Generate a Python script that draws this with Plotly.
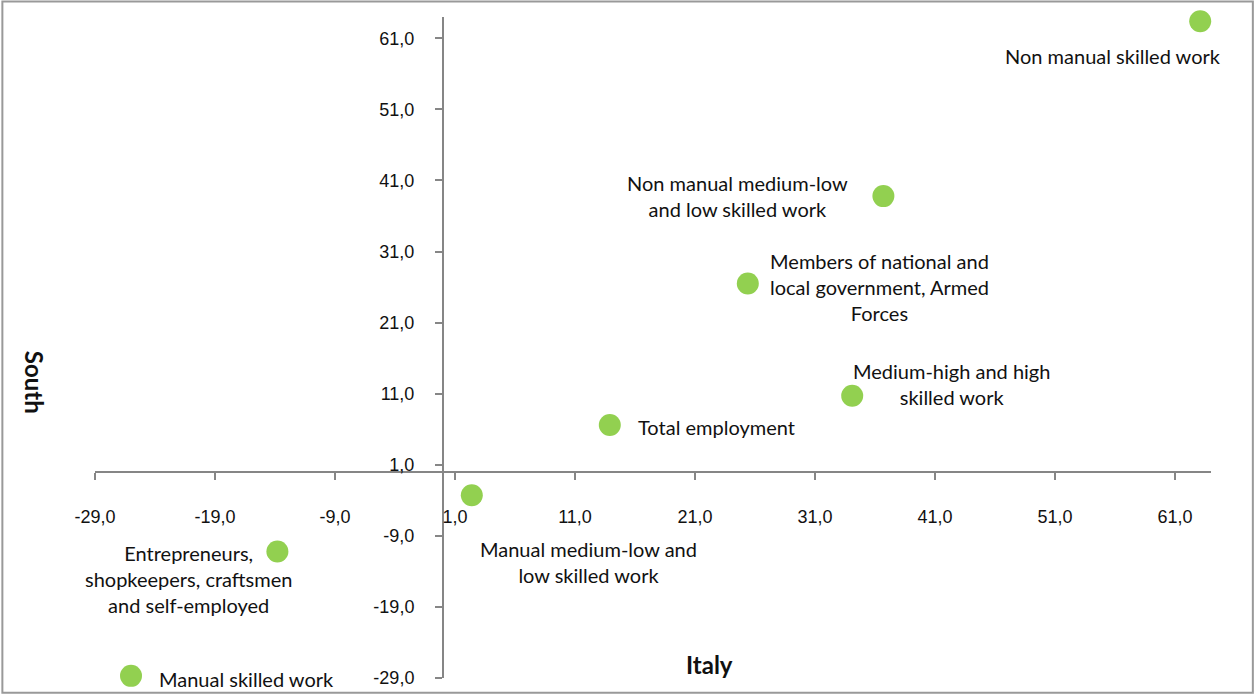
import plotly.graph_objects as go

# ---- data ----
labels = [
    "Non manual skilled work",
    "Non manual medium-low<br>and low skilled work",
    "Members of national and<br>local government, Armed<br>Forces",
    "Medium-high and high<br>skilled work",
    "Total employment",
    "Manual medium-low and<br>low skilled work",
    "Entrepreneurs,<br>shopkeepers, craftsmen<br>and self-employed",
    "Manual skilled work",
]
italy = [63.1, 36.7, 25.4, 34.1, 13.9, 2.4, -13.8, -26.0]
south = [63.4, 38.8, 26.5, 10.7, 6.6, -3.3, -11.2, -28.7]

tick_vals = [-29, -19, -9, 1, 11, 21, 31, 41, 51, 61]
tick_text = ["-29,0", "-19,0", "-9,0", "1,0", "11,0", "21,0", "31,0", "41,0", "51,0", "61,0"]

x_range = [-29, 64]
y_range = [-29, 64]

# ---- label styles (pixel offsets from the marker) ----
label_style = [
    dict(xanchor="center", xshift=-87, yshift=-35),
    dict(xanchor="right", xshift=-33, yshift=0),
    dict(xanchor="left", xshift=20, yshift=-3),
    dict(xanchor="center", xshift=99, yshift=12),
    dict(xanchor="left", xshift=26, yshift=-2),
    dict(xanchor="center", xshift=117, yshift=-67),
    dict(xanchor="center", xshift=-89, yshift=-28),
    dict(xanchor="left", xshift=26, yshift=-3),
]

GREEN = "#92D050"
AXIS = "#868686"
LABEL_FONT = dict(family="Lato, 'Open Sans', sans-serif", size=20, color="#111111")

fig = go.Figure()
fig.add_trace(go.Scatter(
    x=italy, y=south, mode="markers",
    marker=dict(size=22, color=GREEN, line=dict(width=0)),
    cliponaxis=False,
    hoverinfo="skip", showlegend=False,
))

annotations = []
for xv, yv, txt, st in zip(italy, south, labels, label_style):
    annotations.append(dict(
        x=xv, y=yv, xref="x", yref="y", text=txt, showarrow=False,
        xanchor=st["xanchor"], yanchor="middle", align="center",
        xshift=st["xshift"], yshift=st["yshift"], font=LABEL_FONT,
    ))

# axis titles
annotations.append(dict(
    x=0.551, y=0.02, xref="paper", yref="paper", text="<b>Italy</b>",
    showarrow=False, xanchor="center", yanchor="middle",
    font=dict(family="Lato, sans-serif", size=24, color="#111111"),
))
annotations.append(dict(
    x=-0.054, y=0.447, xref="paper", yref="paper", text="<b>South</b>",
    showarrow=False, xanchor="center", yanchor="middle", textangle=90,
    font=dict(family="Lato, sans-serif", size=24, color="#111111"),
))

x_cross = (0 - y_range[0]) / (y_range[1] - y_range[0])
y_cross = (0 - x_range[0]) / (x_range[1] - x_range[0])

tick_font = dict(family="'Liberation Sans', Arial, sans-serif", size=18, color="#111111")

fig.update_layout(
    width=1256, height=700,
    margin=dict(l=95, r=45, t=17, b=17),
    paper_bgcolor="white", plot_bgcolor="white",
    xaxis=dict(
        range=x_range, anchor="free", position=x_cross, side="bottom",
        showgrid=False, zeroline=False,
        showline=True, linecolor=AXIS, linewidth=2,
        ticks="outside", ticklen=7, tickwidth=2, tickcolor=AXIS,
        tickvals=tick_vals, ticktext=tick_text, tickfont=tick_font,
        ticklabelstandoff=22,
    ),
    yaxis=dict(
        range=y_range, anchor="free", position=y_cross, side="left",
        showgrid=False, zeroline=False,
        showline=True, linecolor=AXIS, linewidth=2,
        ticks="outside", ticklen=7, tickwidth=2, tickcolor=AXIS,
        tickvals=tick_vals, ticktext=tick_text, tickfont=tick_font,
        ticklabelstandoff=17,
    ),
    annotations=annotations,
    shapes=[dict(
        type="rect", xref="paper", yref="paper",
        x0=-0.083, x1=1.0375, y0=-0.0225, y1=1.0235,
        line=dict(color="#999999", width=2), fillcolor="rgba(0,0,0,0)",
        layer="below",
    )],
)

fig.write_html("out.html")
